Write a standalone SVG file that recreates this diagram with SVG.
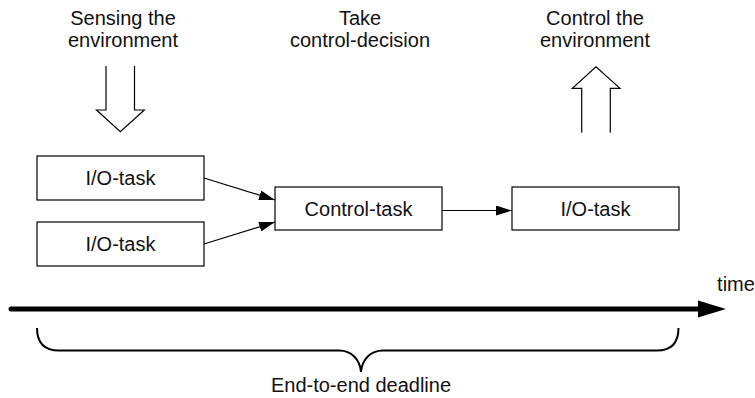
<svg xmlns="http://www.w3.org/2000/svg" width="755" height="398" viewBox="0 0 755 398">
  <style>
    text { font-family: "Liberation Sans", Arial, sans-serif; font-size: 20px; fill: #111; text-anchor: middle; }
    .box { fill: #fff; stroke: #000; stroke-width: 1.2; }
    .link { fill: none; stroke: #000; stroke-width: 1.2; }
    .hollow { fill: #fff; stroke: #000; stroke-width: 1.2; stroke-linejoin: miter; }
    .axis { fill: none; stroke: #000; stroke-width: 5; stroke-linecap: round; }
    .brace { fill: none; stroke: #000; stroke-width: 2; }
  </style>
  <defs>
    <marker id="head" viewBox="0 0 16 10" refX="16" refY="5" markerWidth="16" markerHeight="10" markerUnits="userSpaceOnUse" orient="auto">
      <path d="M0,0 L16,5 L0,10 Z" fill="#000"/>
    </marker>
  </defs>

  <!-- phase captions -->
  <g id="caption-sense">
    <text x="123" y="25">Sensing the</text>
    <text x="123" y="47">environment</text>
  </g>
  <g id="caption-decide">
    <text x="360" y="25">Take</text>
    <text x="360" y="47">control-decision</text>
  </g>
  <g id="caption-control">
    <text x="595" y="25">Control the</text>
    <text x="595" y="47">environment</text>
  </g>

  <!-- hollow block arrows: input from and output to the environment -->
  <g id="arrow-in">
    <path class="hollow" d="M106,66 V110 H96.5 L120.3,131.7 L144.3,110 H134.5 V66"/>
  </g>
  <g id="arrow-out">
    <path class="hollow" d="M581.7,132.5 V88.3 H572.3 L596,66.7 L620,88.3 H610.3 V132.5"/>
  </g>

  <!-- task nodes -->
  <g id="io-task-1">
    <rect class="box" x="37" y="156" width="167" height="44"/>
    <text x="120.5" y="185">I/O-task</text>
  </g>
  <g id="io-task-2">
    <rect class="box" x="37" y="222" width="167" height="44"/>
    <text x="120.5" y="251">I/O-task</text>
  </g>
  <g id="control-task">
    <rect class="box" x="275" y="187" width="167" height="43"/>
    <text x="358.5" y="215.5">Control-task</text>
  </g>
  <g id="io-task-3">
    <rect class="box" x="512" y="187" width="167" height="43"/>
    <text x="595.5" y="215.5">I/O-task</text>
  </g>

  <!-- data-flow connectors -->
  <g id="connectors">
    <line class="link" x1="204" y1="178" x2="275" y2="200" marker-end="url(#head)"/>
    <line class="link" x1="204" y1="244" x2="275" y2="222" marker-end="url(#head)"/>
    <line class="link" x1="442" y1="210.5" x2="512" y2="210.5" marker-end="url(#head)"/>
  </g>

  <!-- time axis -->
  <g id="time-axis">
    <line class="axis" x1="11" y1="309" x2="702" y2="309"/>
    <path d="M698,300.5 L726,309 L698,317.5 Z" fill="#000"/>
    <text x="736" y="291">time</text>
  </g>

  <!-- deadline brace -->
  <g id="deadline">
    <path class="brace" d="M37,328 C37,342 44,350.5 59,350.5 H339 C352,350.5 360,360 361,372 C362,360 370,350.5 383,350.5 H657 C672,350.5 678.5,342 678.5,328"/>
    <text x="361" y="392">End-to-end deadline</text>
  </g>
</svg>
